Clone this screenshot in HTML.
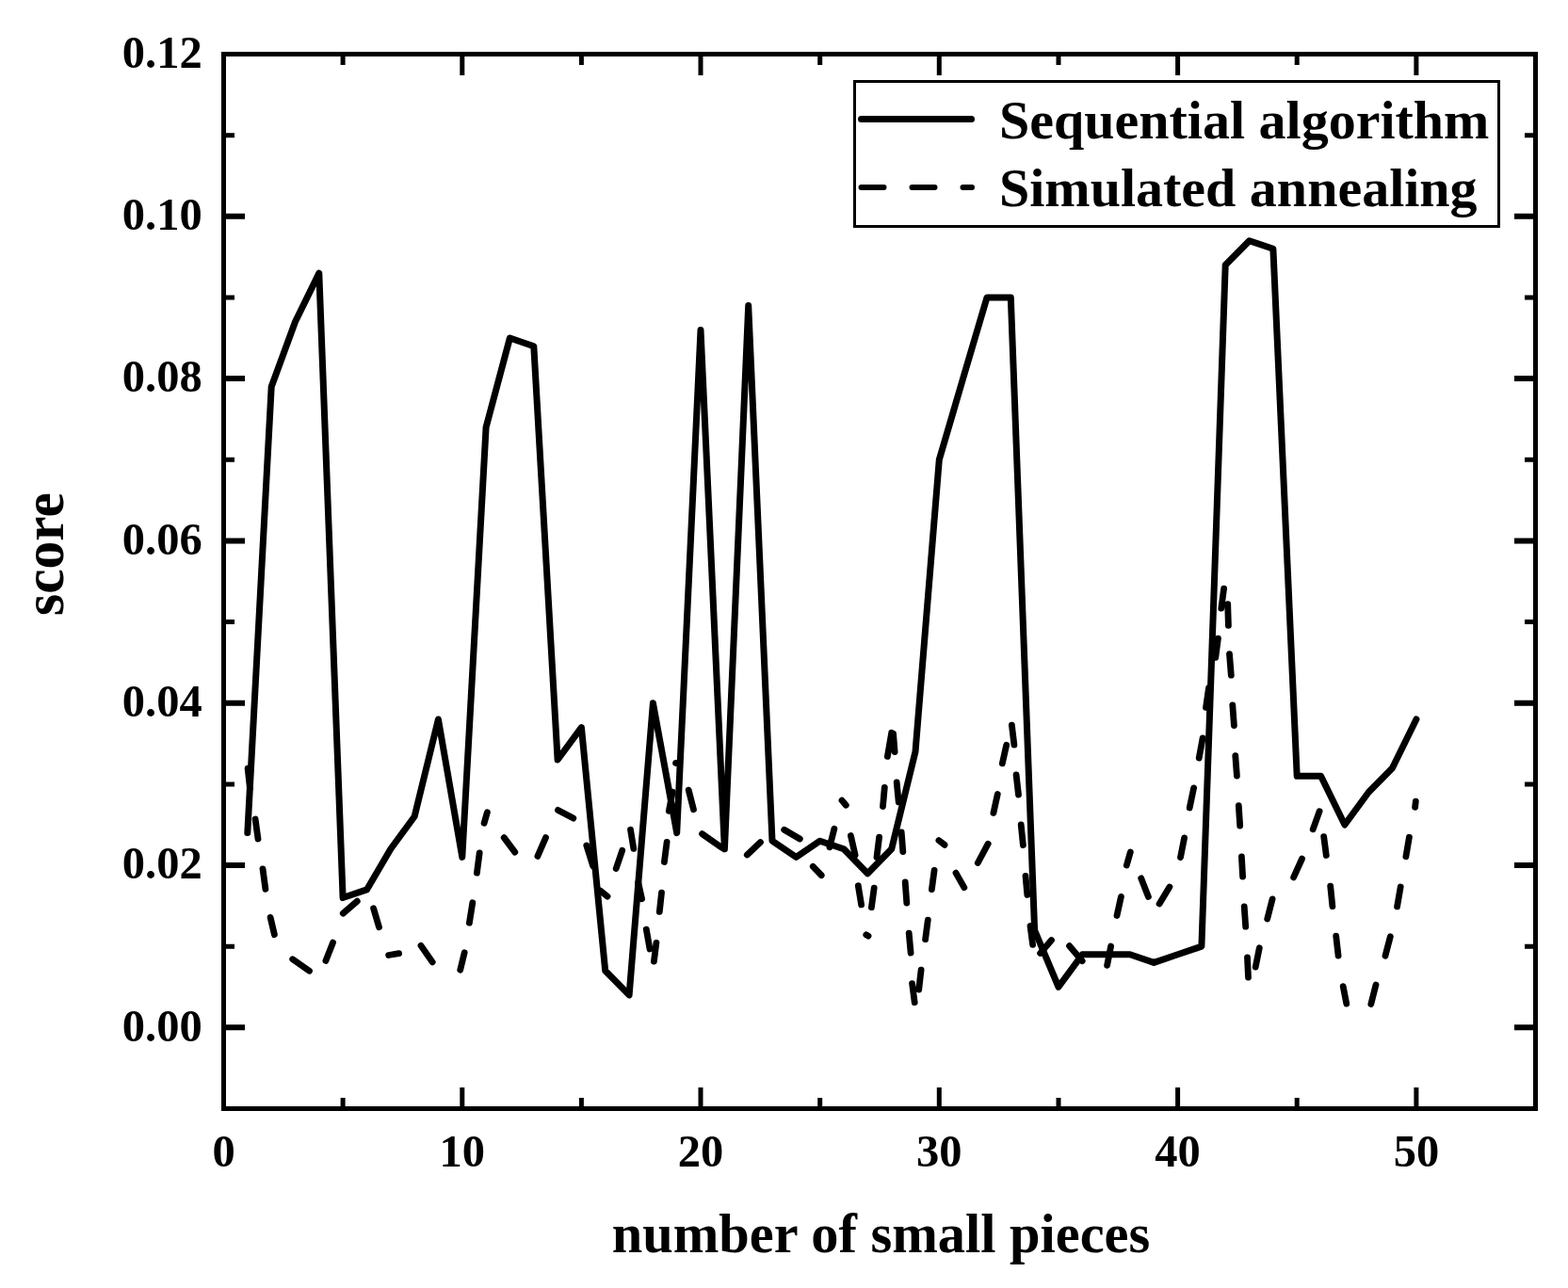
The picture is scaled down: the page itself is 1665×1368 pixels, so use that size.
<!DOCTYPE html>
<html lang="en"><head><meta charset="utf-8"><title>score vs number of small pieces</title>
<style>html,body{margin:0;padding:0;background:#fff}body{width:1665px;height:1368px;overflow:hidden}svg{display:block}text{font-family:"Liberation Serif","Times New Roman",serif;font-weight:bold;fill:#000}</style></head><body>
<svg width="1665" height="1368" viewBox="0 0 1665 1368">
<rect width="1665" height="1368" fill="#fff"/>
<rect x="237.5" y="57.5" width="1393.0" height="1120.0" fill="none" stroke="#000" stroke-width="5"/>
<g stroke="#000" fill="none"><path d="M364.1 1177.5v-11.5M364.1 57.5v11.5" stroke-width="5"/><path d="M490.8 1177.5v-22.5M490.8 57.5v22.5" stroke-width="5"/><path d="M617.4 1177.5v-11.5M617.4 57.5v11.5" stroke-width="5"/><path d="M744.0 1177.5v-22.5M744.0 57.5v22.5" stroke-width="5"/><path d="M870.7 1177.5v-11.5M870.7 57.5v11.5" stroke-width="5"/><path d="M997.3 1177.5v-22.5M997.3 57.5v22.5" stroke-width="5"/><path d="M1124.0 1177.5v-11.5M1124.0 57.5v11.5" stroke-width="5"/><path d="M1250.6 1177.5v-22.5M1250.6 57.5v22.5" stroke-width="5"/><path d="M1377.2 1177.5v-11.5M1377.2 57.5v11.5" stroke-width="5"/><path d="M1503.9 1177.5v-22.5M1503.9 57.5v22.5" stroke-width="5"/><path d="M237.5 1091.3h22.5M1630.5 1091.3h-22.5" stroke-width="6"/><path d="M237.5 1005.2h11.5M1630.5 1005.2h-11.5" stroke-width="5"/><path d="M237.5 919.0h22.5M1630.5 919.0h-22.5" stroke-width="6"/><path d="M237.5 832.9h11.5M1630.5 832.9h-11.5" stroke-width="5"/><path d="M237.5 746.7h22.5M1630.5 746.7h-22.5" stroke-width="6"/><path d="M237.5 660.6h11.5M1630.5 660.6h-11.5" stroke-width="5"/><path d="M237.5 574.4h22.5M1630.5 574.4h-22.5" stroke-width="6"/><path d="M237.5 488.3h11.5M1630.5 488.3h-11.5" stroke-width="5"/><path d="M237.5 402.1h22.5M1630.5 402.1h-22.5" stroke-width="6"/><path d="M237.5 316.0h11.5M1630.5 316.0h-11.5" stroke-width="5"/><path d="M237.5 229.8h22.5M1630.5 229.8h-22.5" stroke-width="6"/><path d="M237.5 143.7h11.5M1630.5 143.7h-11.5" stroke-width="5"/></g>
<g font-size="48.5" text-anchor="middle">
<text x="237.5" y="1238.5">0</text>
<text x="490.8" y="1238.5">10</text>
<text x="744.0" y="1238.5">20</text>
<text x="997.3" y="1238.5">30</text>
<text x="1250.6" y="1238.5">40</text>
<text x="1503.9" y="1238.5">50</text>
</g>
<g font-size="48.5" text-anchor="end">
<text x="214.7" y="1105.6">0.00</text>
<text x="214.7" y="933.3">0.02</text>
<text x="214.7" y="761.0">0.04</text>
<text x="214.7" y="588.7">0.06</text>
<text x="214.7" y="416.4">0.08</text>
<text x="214.7" y="244.1">0.10</text>
<text x="214.7" y="71.8">0.12</text>
</g>
<text x="935.5" y="1329.7" font-size="58.4" text-anchor="middle">number of small pieces</text>
<text transform="translate(67.2 588.5) rotate(-90) scale(1 1.025)" font-size="59.5" text-anchor="middle">score</text>
<path d="M263.1 816.1L265.4 837.1M271.1 870.0L274.0 891.0M279.0 922.8L281.9 944.3M287.1 974.4L291.4 992.6M310.7 1018.8L328.5 1031.2M345.9 1020.4L353.6 1001.1M364.3 970.1L379.3 957.2M396.6 964.7L402.5 984.8M412.7 1014.5L423.6 1012.7M447.0 1004.4L459.2 1021.9M488.7 1030.2L493.2 1011.7M498.4 980.1L501.8 958.8M506.4 927.2L509.2 905.8M514.1 874.3L517.4 862.8M535.2 889.6L546.8 905.1M570.9 909.4L579.5 889.6M592.5 860.4L608.8 869.1M622.8 897.9L629.7 920.1M637.6 946.1L645.0 952.1M654.2 922.5L660.7 903.3M669.5 881.3L672.8 901.3M677.7 937.3L681.6 954.7M686.3 987.2L690.0 1008.0M694.4 1021.2L696.9 1001.3M700.3 968.4L702.5 948.1M705.4 915.5L708.1 894.4M710.3 861.3L714.2 841.1M717.5 810.4L718.5 810.6M731.2 839.1L736.5 859.8M745.5 885.6L766.7 900.5M793.3 908.0L807.5 894.5M832.7 881.2L849.3 891.0M863.3 920.3L872.2 929.7M880.9 899.9L885.9 880.2M894.0 850.1L898.3 855.2M903.4 887.5L908.1 908.2M911.3 940.8L914.6 960.9M919.8 992.8L922.0 994.2M925.4 963.7L928.2 943.1M931.0 910.5L933.6 889.1M937.5 856.5L939.3 836.4M942.4 803.3L946.7 778.3M948.6 779.4L950.1 798.6M952.2 831.0L954.2 851.9M957.2 883.9L958.8 904.6M961.2 937.0L962.8 959.1M965.2 991.2L967.1 1012.1M968.6 1044.6L971.2 1064.7M975.7 1051.0L978.1 1030.2M982.6 997.7L985.3 977.1M989.4 944.6L992.1 924.4M996.9 892.6L1003.0 897.3M1015.0 927.1L1023.8 942.6M1038.3 916.5L1049.2 896.2M1054.9 863.5L1059.3 843.5M1064.3 810.9L1068.7 791.2M1074.4 770.1L1076.9 791.1M1079.1 823.0L1081.5 844.0M1084.2 876.0L1086.4 897.6M1089.0 930.4L1090.8 950.4M1094.0 983.5L1096.6 1003.4M1104.6 1012.5L1116.5 998.5M1135.6 1004.7L1149.2 1020.7M1175.6 1025.4L1179.6 1005.0M1186.0 972.5L1190.4 952.4M1196.3 919.1L1200.3 905.1M1211.7 932.8L1219.4 952.4M1231.1 959.9L1241.9 942.0M1253.5 910.7L1257.6 889.9M1263.2 858.0L1267.6 836.9M1273.2 805.1L1277.1 783.9M1280.5 751.4L1283.5 730.8M1290.8 698.3L1293.4 678.2M1296.8 646.1L1299.6 625.1M1303.7 641.7L1304.4 664.4M1305.5 694.7L1307.3 717.2M1308.8 748.8L1310.4 770.6M1311.8 802.7L1313.4 824.1M1315.3 855.7L1316.7 877.0M1318.4 909.9L1319.6 931.0M1321.2 962.8L1322.7 984.2M1324.5 1017.0L1325.5 1038.1M1333.2 1027.1L1337.3 1006.8M1345.7 976.0L1351.1 954.9M1373.6 931.9L1382.6 912.0M1394.2 880.8L1401.1 861.7M1405.7 888.6L1408.3 908.5M1412.7 941.2L1414.9 962.7M1418.7 994.2L1421.1 1015.1M1426.2 1047.7L1429.8 1066.1M1455.8 1066.5L1461.0 1046.0M1471.0 1015.2L1476.3 994.8M1483.6 962.8L1487.2 942.0M1492.9 909.7L1496.4 889.3M1502.6 857.3L1503.3 851.1" fill="none" stroke="#000" stroke-width="6.8" stroke-linecap="round"/>
<polyline points="262.8,884.6 288.2,410.7 313.5,341.8 338.8,290.1 364.1,953.5 389.5,944.9 414.8,901.8 440.1,867.3 465.4,764.0 490.8,910.4 516.1,453.8 541.4,359.0 566.8,367.7 592.1,807.0 617.4,772.6 642.7,1031.0 668.1,1056.9 693.4,746.7 718.7,884.6 744.0,350.4 769.4,901.8 794.7,324.6 820.0,893.2 845.4,910.4 870.7,893.2 896.0,901.8 921.3,927.7 946.7,901.8 972.0,798.4 997.3,488.3 1022.6,402.1 1048.0,316.0 1073.3,316.0 1098.6,988.0 1124.0,1048.3 1149.3,1013.8 1174.6,1013.8 1199.9,1013.8 1225.3,1022.4 1250.6,1013.8 1275.9,1005.2 1301.2,281.5 1326.6,255.7 1351.9,264.3 1377.2,824.3 1402.6,824.3 1427.9,876.0 1453.2,841.5 1478.5,815.7 1503.9,764.0" fill="none" stroke="#000" stroke-width="7" stroke-linejoin="round" stroke-linecap="round"/>
<rect x="907.5" y="86.5" width="684" height="154" fill="#fff" stroke="#000" stroke-width="3"/>
<path d="M914.5 126.5H1031.5" stroke="#000" stroke-width="7" stroke-linecap="round" fill="none"/>
<path d="M914.5 199H1032" stroke="#000" stroke-width="6" stroke-dasharray="24 30" stroke-linecap="round" fill="none"/>
<text x="1061" y="146.5" font-size="58">Sequential algorithm</text>
<text x="1061" y="219.2" font-size="58">Simulated annealing</text>
</svg></body></html>
